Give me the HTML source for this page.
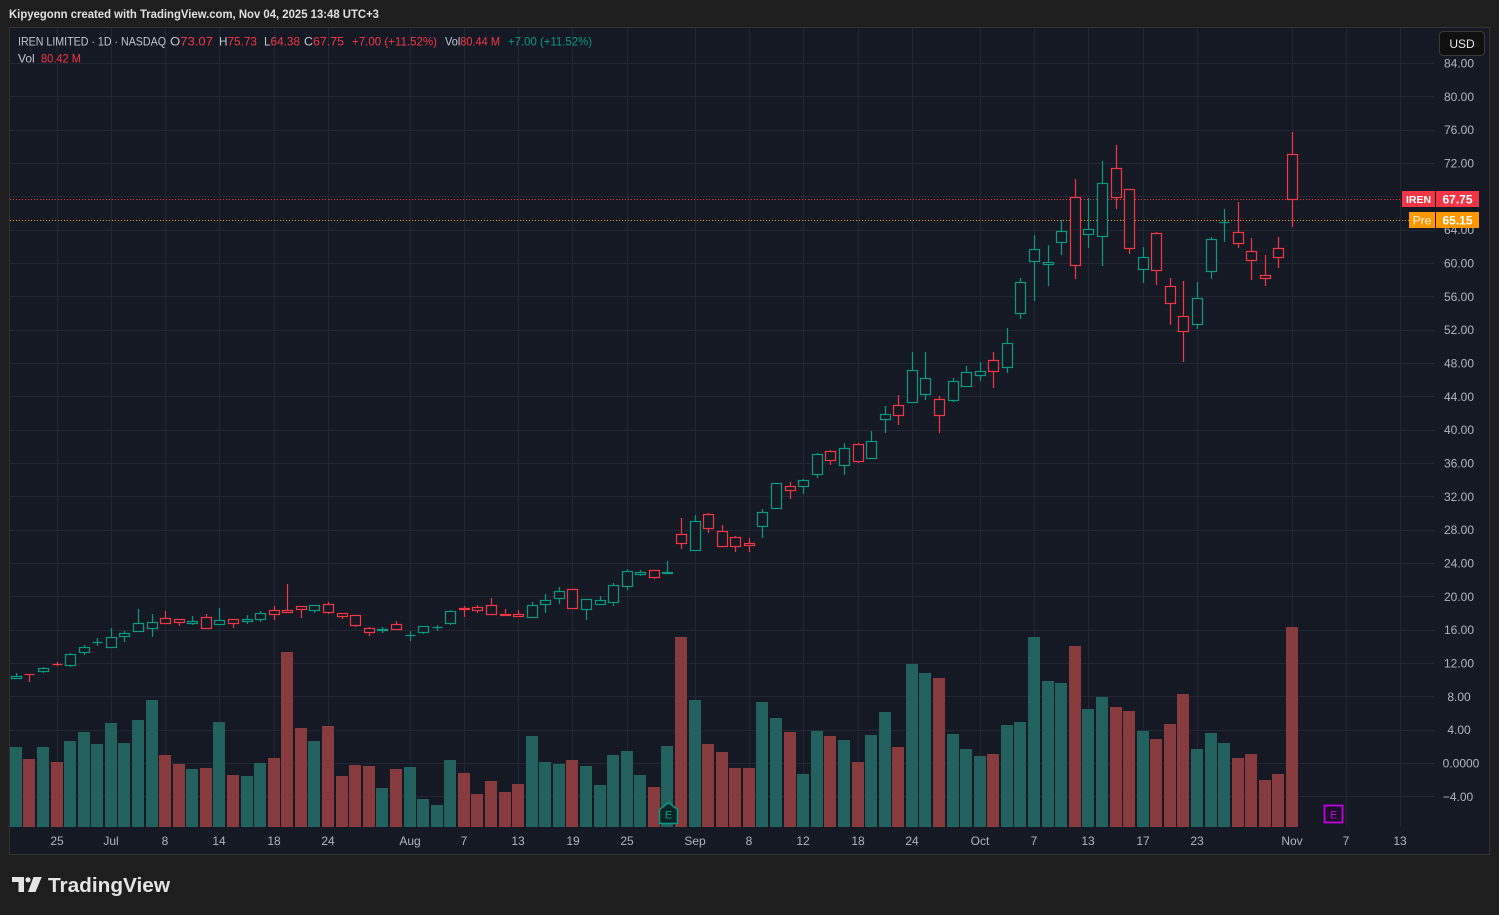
<!DOCTYPE html>
<html><head><meta charset="utf-8"><style>
html,body{margin:0;padding:0;}
body{width:1499px;height:915px;background:#1e1e1e;overflow:hidden;position:relative;font-family:"Liberation Sans",sans-serif;}
svg{position:absolute;left:0;top:0;}
</style></head><body>
<svg width="1499" height="915" viewBox="0 0 1499 915" xmlns="http://www.w3.org/2000/svg" font-family="Liberation Sans, sans-serif">
<defs><clipPath id="cp"><rect x="10" y="28" width="1479" height="799"/></clipPath></defs>
<text x="9" y="18" font-size="11.5" font-weight="bold" fill="#e0e0e0" textLength="370" lengthAdjust="spacingAndGlyphs">Kipyegonn created with TradingView.com, Nov 04, 2025 13:48 UTC+3</text>
<rect x="9.5" y="27.5" width="1480" height="827" fill="#151924" stroke="#333333"/>
<g stroke="#232733" stroke-width="1" clip-path="url(#cp)">
<path d="M10 63.5H1435M10 96.5H1435M10 130.5H1435M10 163.5H1435M10 196.5H1435M10 230.5H1435M10 263.5H1435M10 296.5H1435M10 330.5H1435M10 363.5H1435M10 396.5H1435M10 430.5H1435M10 463.5H1435M10 496.5H1435M10 530.5H1435M10 563.5H1435M10 596.5H1435M10 630.5H1435M10 663.5H1435M10 696.5H1435M10 730.5H1435M10 763.5H1435M10 796.5H1435"/>
<path d="M57.5 28V827M111.5 28V827M165.5 28V827M219.5 28V827M274.5 28V827M328.5 28V827M410.5 28V827M464.5 28V827M518.5 28V827M572.5 28V827M627.5 28V827M695.5 28V827M749.5 28V827M803.5 28V827M858.5 28V827M912.5 28V827M980.5 28V827M1034.5 28V827M1088.5 28V827M1143.5 28V827M1197.5 28V827M1292.5 28V827M1346.5 28V827M1400.5 28V827"/>
</g>
<g fill="#22615d">
<rect x="10" y="747" width="12" height="80"/><rect x="37" y="747" width="12" height="80"/><rect x="64" y="741" width="12" height="86"/><rect x="78" y="732" width="12" height="95"/><rect x="91" y="744" width="12" height="83"/><rect x="105" y="723" width="12" height="104"/><rect x="118" y="743" width="12" height="84"/><rect x="132" y="720" width="12" height="107"/><rect x="146" y="700" width="12" height="127"/><rect x="186" y="769" width="12" height="58"/><rect x="213" y="722" width="12" height="105"/><rect x="241" y="776" width="12" height="51"/><rect x="254" y="763" width="12" height="64"/><rect x="308" y="741" width="12" height="86"/><rect x="376" y="788" width="12" height="39"/><rect x="404" y="767" width="12" height="60"/><rect x="417" y="799" width="12" height="28"/><rect x="431" y="805" width="12" height="22"/><rect x="444" y="760" width="12" height="67"/><rect x="526" y="736" width="12" height="91"/><rect x="539" y="762" width="12" height="65"/><rect x="553" y="764" width="12" height="63"/><rect x="580" y="766" width="12" height="61"/><rect x="594" y="785" width="12" height="42"/><rect x="607" y="755" width="12" height="72"/><rect x="621" y="751" width="12" height="76"/><rect x="634" y="775" width="12" height="52"/><rect x="661" y="746" width="12" height="81"/><rect x="689" y="700" width="12" height="127"/><rect x="756" y="702" width="12" height="125"/><rect x="770" y="718" width="12" height="109"/><rect x="797" y="774" width="12" height="53"/><rect x="811" y="731" width="12" height="96"/><rect x="838" y="740" width="12" height="87"/><rect x="865" y="735" width="12" height="92"/><rect x="879" y="712" width="12" height="115"/><rect x="906" y="664" width="12" height="163"/><rect x="919" y="673" width="12" height="154"/><rect x="947" y="734" width="12" height="93"/><rect x="960" y="749" width="12" height="78"/><rect x="974" y="756" width="12" height="71"/><rect x="1001" y="725" width="12" height="102"/><rect x="1014" y="722" width="12" height="105"/><rect x="1028" y="637" width="12" height="190"/><rect x="1042" y="681" width="12" height="146"/><rect x="1055" y="683" width="12" height="144"/><rect x="1082" y="709" width="12" height="118"/><rect x="1096" y="697" width="12" height="130"/><rect x="1137" y="731" width="12" height="96"/><rect x="1191" y="749" width="12" height="78"/><rect x="1205" y="733" width="12" height="94"/><rect x="1218" y="743" width="12" height="84"/>
</g>
<g fill="#873b3f">
<rect x="23" y="759" width="12" height="68"/><rect x="51" y="762" width="12" height="65"/><rect x="159" y="755" width="12" height="72"/><rect x="173" y="764" width="12" height="63"/><rect x="200" y="768" width="12" height="59"/><rect x="227" y="775" width="12" height="52"/><rect x="268" y="758" width="12" height="69"/><rect x="281" y="652" width="12" height="175"/><rect x="295" y="728" width="12" height="99"/><rect x="322" y="726" width="12" height="101"/><rect x="336" y="776" width="12" height="51"/><rect x="349" y="765" width="12" height="62"/><rect x="363" y="766" width="12" height="61"/><rect x="390" y="769" width="12" height="58"/><rect x="458" y="773" width="12" height="54"/><rect x="471" y="794" width="12" height="33"/><rect x="485" y="781" width="12" height="46"/><rect x="499" y="792" width="12" height="35"/><rect x="512" y="784" width="12" height="43"/><rect x="566" y="760" width="12" height="67"/><rect x="648" y="787" width="12" height="40"/><rect x="675" y="637" width="12" height="190"/><rect x="702" y="744" width="12" height="83"/><rect x="716" y="752" width="12" height="75"/><rect x="729" y="768" width="12" height="59"/><rect x="743" y="768" width="12" height="59"/><rect x="784" y="732" width="12" height="95"/><rect x="824" y="736" width="12" height="91"/><rect x="852" y="762" width="12" height="65"/><rect x="892" y="747" width="12" height="80"/><rect x="933" y="678" width="12" height="149"/><rect x="987" y="754" width="12" height="73"/><rect x="1069" y="646" width="12" height="181"/><rect x="1110" y="707" width="12" height="120"/><rect x="1123" y="711" width="12" height="116"/><rect x="1150" y="739" width="12" height="88"/><rect x="1164" y="724" width="12" height="103"/><rect x="1177" y="694" width="12" height="133"/><rect x="1232" y="758" width="12" height="69"/><rect x="1245" y="754" width="12" height="73"/><rect x="1259" y="780" width="12" height="47"/><rect x="1272" y="774" width="12" height="53"/><rect x="1286" y="627" width="12" height="200"/>
</g>
<path d="M10 199.5H1402" stroke="#f23645" stroke-width="1" stroke-dasharray="1 2"/>
<path d="M10 220.5H1409" stroke="#ff9800" stroke-width="1" stroke-dasharray="1 2"/>
<g stroke="#089981" stroke-width="1.2" fill="#151924">
<path d="M16.5 673V679M43.5 667V673M70.5 653V667M84.5 645V655M97.5 638V646M92.5 642.5H102.5M111.5 628V647M124.5 631V642M138.5 609V631M152.5 614V637M192.5 616V625M219.5 608V624M247.5 615V624M260.5 611V622M314.5 605V613M382.5 627V633M410.5 631V641M405.5 635.5H415.5M423.5 626V634M437.5 625V631M432.5 627.5H442.5M450.5 610V625M532.5 602V617M545.5 594V613M559.5 587V604M586.5 599V620M600.5 596V604M613.5 583V606M627.5 569V590M640.5 570V576M667.5 561V574M695.5 515V551M762.5 509V538M776.5 483V509M803.5 479V494M817.5 453V478M844.5 443V475M871.5 431V458M885.5 406V433M912.5 352V402M925.5 352V400M953.5 378V402M966.5 366V387M980.5 362V381M1007.5 328V373M1020.5 278V319M1034.5 235V301M1048.5 245V286M1061.5 220V255M1088.5 198V248M1102.5 161V266M1143.5 247V283M1197.5 282V329M1211.5 237V279M1224.5 209V242M1219.5 222.5H1229.5"/>
<rect x="11.5" y="676.5" width="10" height="2"/><rect x="38.5" y="668.5" width="10" height="3"/><rect x="65.5" y="654.5" width="10" height="11"/><rect x="79.5" y="647.5" width="10" height="5"/><rect x="106.5" y="637.5" width="10" height="10"/><rect x="119.5" y="633.5" width="10" height="3"/><rect x="133.5" y="623.5" width="10" height="8"/><rect x="147.5" y="622.5" width="10" height="6"/><rect x="187.5" y="621.5" width="10" height="2"/><rect x="214.5" y="620.5" width="10" height="4"/><rect x="242.5" y="619.5" width="10" height="2"/><rect x="255.5" y="613.5" width="10" height="6"/><rect x="309.5" y="605.5" width="10" height="5"/><rect x="377.5" y="629.5" width="10" height="1"/><rect x="418.5" y="626.5" width="10" height="6"/><rect x="445.5" y="611.5" width="10" height="12"/><rect x="527.5" y="605.5" width="10" height="12"/><rect x="540.5" y="600.5" width="10" height="4"/><rect x="554.5" y="591.5" width="10" height="7"/><rect x="581.5" y="599.5" width="10" height="10"/><rect x="595.5" y="600.5" width="10" height="4"/><rect x="608.5" y="585.5" width="10" height="17"/><rect x="622.5" y="571.5" width="10" height="15"/><rect x="635.5" y="572.5" width="10" height="2"/><rect x="662.5" y="572.5" width="10" height="1"/><rect x="690.5" y="521.5" width="10" height="29"/><rect x="757.5" y="512.5" width="10" height="14"/><rect x="771.5" y="483.5" width="10" height="25"/><rect x="798.5" y="480.5" width="10" height="6"/><rect x="812.5" y="454.5" width="10" height="20"/><rect x="839.5" y="448.5" width="10" height="17"/><rect x="866.5" y="441.5" width="10" height="17"/><rect x="880.5" y="414.5" width="10" height="5"/><rect x="907.5" y="370.5" width="10" height="32"/><rect x="920.5" y="378.5" width="10" height="16"/><rect x="948.5" y="381.5" width="10" height="19"/><rect x="961.5" y="372.5" width="10" height="14"/><rect x="975.5" y="371.5" width="10" height="4"/><rect x="1002.5" y="343.5" width="10" height="24"/><rect x="1015.5" y="282.5" width="10" height="31"/><rect x="1029.5" y="249.5" width="10" height="12"/><rect x="1043.5" y="262.5" width="10" height="2"/><rect x="1056.5" y="231.5" width="10" height="11"/><rect x="1083.5" y="229.5" width="10" height="5"/><rect x="1097.5" y="183.5" width="10" height="53"/><rect x="1138.5" y="257.5" width="10" height="12"/><rect x="1192.5" y="298.5" width="10" height="26"/><rect x="1206.5" y="239.5" width="10" height="32"/>
</g>
<g stroke="#f23645" stroke-width="1.2" fill="#151924">
<path d="M29.5 674V682M24.5 674.5H34.5M57.5 662V666M52.5 664.5H62.5M165.5 611V623M179.5 619V626M206.5 614V628M233.5 619V628M274.5 606V620M287.5 584V613M301.5 606V618M328.5 602V614M342.5 613V619M355.5 615V627M369.5 627V636M396.5 621V630M464.5 606V617M477.5 605V613M491.5 598V614M505.5 609V616M518.5 610V617M572.5 589V608M654.5 570V579M681.5 518V549M708.5 513V533M722.5 525V547M735.5 536V552M749.5 538V552M790.5 482V499M830.5 450V465M858.5 443V463M898.5 395V425M939.5 396V433M993.5 352V388M1075.5 179V279M1116.5 145V209M1129.5 189V254M1156.5 232V285M1170.5 278V325M1183.5 281V362M1238.5 202V248M1251.5 238V280M1265.5 255V286M1278.5 237V268M1292.5 132V227"/>
<rect x="160.5" y="618.5" width="10" height="5"/><rect x="174.5" y="619.5" width="10" height="3"/><rect x="201.5" y="617.5" width="10" height="11"/><rect x="228.5" y="619.5" width="10" height="4"/><rect x="269.5" y="610.5" width="10" height="4"/><rect x="282.5" y="610.5" width="10" height="2"/><rect x="296.5" y="606.5" width="10" height="3"/><rect x="323.5" y="604.5" width="10" height="8"/><rect x="337.5" y="613.5" width="10" height="3"/><rect x="350.5" y="615.5" width="10" height="10"/><rect x="364.5" y="628.5" width="10" height="4"/><rect x="391.5" y="624.5" width="10" height="5"/><rect x="459.5" y="608.5" width="10" height="1"/><rect x="472.5" y="607.5" width="10" height="3"/><rect x="486.5" y="605.5" width="10" height="9"/><rect x="500.5" y="614.5" width="10" height="1"/><rect x="513.5" y="614.5" width="10" height="2"/><rect x="567.5" y="589.5" width="10" height="19"/><rect x="649.5" y="570.5" width="10" height="7"/><rect x="676.5" y="534.5" width="10" height="9"/><rect x="703.5" y="514.5" width="10" height="14"/><rect x="717.5" y="531.5" width="10" height="15"/><rect x="730.5" y="537.5" width="10" height="9"/><rect x="744.5" y="543.5" width="10" height="2"/><rect x="785.5" y="486.5" width="10" height="4"/><rect x="825.5" y="451.5" width="10" height="9"/><rect x="853.5" y="444.5" width="10" height="17"/><rect x="893.5" y="405.5" width="10" height="10"/><rect x="934.5" y="399.5" width="10" height="16"/><rect x="988.5" y="360.5" width="10" height="11"/><rect x="1070.5" y="197.5" width="10" height="68"/><rect x="1111.5" y="168.5" width="10" height="29"/><rect x="1124.5" y="189.5" width="10" height="59"/><rect x="1151.5" y="233.5" width="10" height="37"/><rect x="1165.5" y="286.5" width="10" height="17"/><rect x="1178.5" y="316.5" width="10" height="15"/><rect x="1233.5" y="232.5" width="10" height="11"/><rect x="1246.5" y="251.5" width="10" height="9"/><rect x="1260.5" y="275.5" width="10" height="3"/><rect x="1273.5" y="248.5" width="10" height="9"/><rect x="1287.5" y="154.5" width="10" height="45"/>
</g>
<!-- earnings markers -->
<path d="M659.5 809.5L668.5 802.5L677.5 809.5V823.5H659.5Z" fill="#0c2424" stroke="#089981" stroke-width="1.5"/>
<text x="668.5" y="818.5" font-size="11" fill="#089981" text-anchor="middle">E</text>
<rect x="1324.5" y="805.5" width="18" height="17" fill="#1c1028" stroke="#c000e0" stroke-width="1.8"/>
<text x="1333.5" y="818.5" font-size="11" fill="#c000e0" text-anchor="middle">E</text>
<!-- legend -->
<g font-size="12">
<text x="18" y="45.5" fill="#c3c6ce" textLength="148" lengthAdjust="spacingAndGlyphs">IREN LIMITED · 1D · NASDAQ</text>
<text x="170" y="45.5" fill="#c3c6ce" textLength="43" lengthAdjust="spacingAndGlyphs">O<tspan fill="#f23645">73.07</tspan></text>
<text x="219" y="45.5" fill="#c3c6ce" textLength="38" lengthAdjust="spacingAndGlyphs">H<tspan fill="#f23645">75.73</tspan></text>
<text x="264" y="45.5" fill="#c3c6ce" textLength="36" lengthAdjust="spacingAndGlyphs">L<tspan fill="#f23645">64.38</tspan></text>
<text x="304" y="45.5" fill="#c3c6ce" textLength="40" lengthAdjust="spacingAndGlyphs">C<tspan fill="#f23645">67.75</tspan></text>
<text x="352" y="45.5" fill="#f23645" textLength="85" lengthAdjust="spacingAndGlyphs">+7.00 (+11.52%)</text>
<text x="445" y="45.5" fill="#c3c6ce" textLength="55" lengthAdjust="spacingAndGlyphs">Vol<tspan fill="#f23645">80.44 M</tspan></text>
<text x="508" y="45.5" fill="#089981" textLength="84" lengthAdjust="spacingAndGlyphs">+7.00 (+11.52%)</text>
<text x="18" y="62.5" fill="#c3c6ce">Vol</text>
<text x="41" y="62.5" fill="#f23645" textLength="40" lengthAdjust="spacingAndGlyphs">80.42 M</text>
</g>
<!-- price axis -->
<g font-size="12" fill="#b2b5be" text-anchor="middle">
<text x="1459" y="67.5">84.00</text><text x="1459" y="100.8">80.00</text><text x="1459" y="134.2">76.00</text><text x="1459" y="167.5">72.00</text><text x="1459" y="200.8">68.00</text><text x="1459" y="234.2">64.00</text><text x="1459" y="267.5">60.00</text><text x="1459" y="300.8">56.00</text><text x="1459" y="334.2">52.00</text><text x="1459" y="367.5">48.00</text><text x="1459" y="400.8">44.00</text><text x="1459" y="434.2">40.00</text><text x="1459" y="467.5">36.00</text><text x="1459" y="500.8">32.00</text><text x="1459" y="534.2">28.00</text><text x="1459" y="567.5">24.00</text><text x="1459" y="600.8">20.00</text><text x="1459" y="634.2">16.00</text><text x="1459" y="667.5">12.00</text><text x="1459" y="700.8">8.00</text><text x="1459" y="734.2">4.00</text><text x="1461" y="767.5">0.0000</text><text x="1458" y="800.8">−4.00</text>
</g>
<rect x="1439.5" y="31.5" width="45" height="24" rx="4" fill="#0f0f0f" stroke="#3a3a3a"/>
<text x="1462" y="48" font-size="12" fill="#e8e8e8" text-anchor="middle">USD</text>
<rect x="1402" y="191" width="33" height="16" fill="#f23645"/>
<rect x="1436" y="191" width="43" height="16" fill="#f23645"/>
<text x="1418.5" y="203" font-size="10.5" font-weight="bold" fill="#ffffff" text-anchor="middle">IREN</text>
<text x="1457.5" y="203.5" font-size="12" font-weight="bold" fill="#ffffff" text-anchor="middle">67.75</text>
<rect x="1409" y="212" width="26" height="16" fill="#ff9800"/>
<rect x="1436" y="212" width="43" height="16" fill="#ff9800"/>
<text x="1422" y="224.5" font-size="12" fill="#fff4e0" text-anchor="middle">Pre</text>
<text x="1457.5" y="224.5" font-size="12" font-weight="bold" fill="#ffffff" text-anchor="middle">65.15</text>
<!-- time axis -->
<g font-size="12" fill="#b2b5be" text-anchor="middle">
<text x="57" y="845">25</text><text x="111" y="845">Jul</text><text x="165" y="845">8</text><text x="219" y="845">14</text><text x="274" y="845">18</text><text x="328" y="845">24</text><text x="410" y="845">Aug</text><text x="464" y="845">7</text><text x="518" y="845">13</text><text x="573" y="845">19</text><text x="627" y="845">25</text><text x="695" y="845">Sep</text><text x="749" y="845">8</text><text x="803" y="845">12</text><text x="858" y="845">18</text><text x="912" y="845">24</text><text x="980" y="845">Oct</text><text x="1034" y="845">7</text><text x="1088" y="845">13</text><text x="1143" y="845">17</text><text x="1197" y="845">23</text><text x="1292" y="845">Nov</text><text x="1346" y="845">7</text><text x="1400" y="845">13</text>
</g>
<!-- footer logo -->
<g fill="#e4e4e4">
<rect x="12" y="877" width="12" height="5"/>
<rect x="18.5" y="877" width="5.5" height="15"/>
<circle cx="28" cy="879.8" r="2.6"/>
<polygon points="33.5,877 41.7,877 35.5,892 28,892"/>
<text x="48" y="892" font-size="20.5" font-weight="bold" textLength="122" lengthAdjust="spacingAndGlyphs">TradingView</text>
</g>
</svg>
</body></html>
